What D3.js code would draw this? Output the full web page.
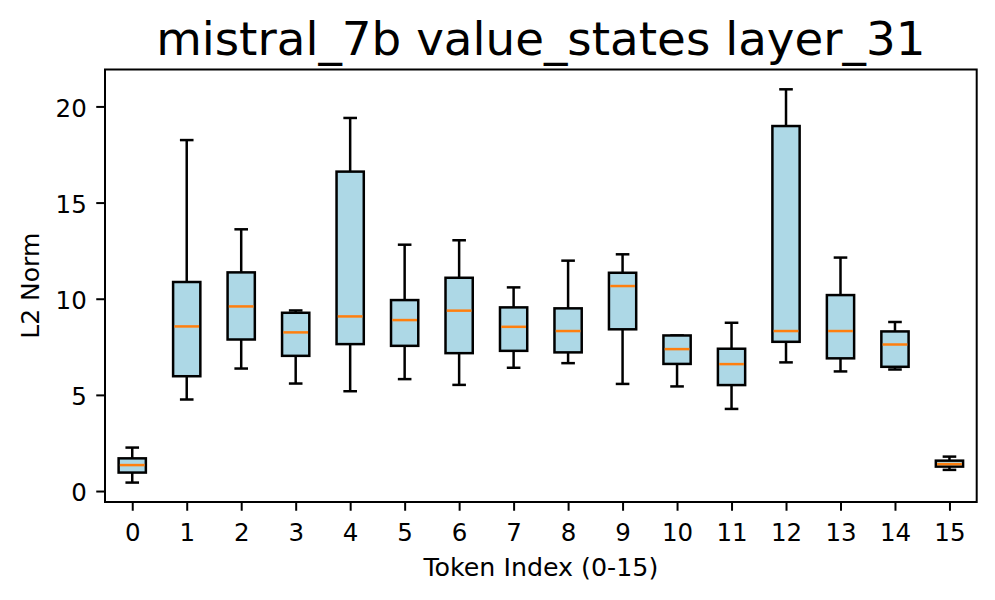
<!DOCTYPE html>
<html>
	<head>
		<meta charset="utf-8">
		<title>mistral_7b value_states layer_31</title>
		<script src="https://d3js.org/d3.v7.min.js"></script>
		<style>
			body { margin: 0; background: #fff; }
			svg { display: block; font-family: "DejaVu Sans", sans-serif; }
		</style>
	</head>
	<body>
		<svg id="chart" width="995" height="600"></svg>

		<script type="text/javascript">
			// values
			var tokens      = [0, 1, 2, 3, 4, 5, 6, 7, 8, 9, 10, 11, 12, 13, 14, 15];
			var whiskerLow  = [0.44, 4.76, 6.37, 5.59, 5.19, 5.82, 5.52, 6.41, 6.65, 5.57, 5.44, 4.27, 6.69, 6.22, 6.32, 1.10];
			var q1          = [0.96, 5.97, 7.88, 7.03, 7.64, 7.55, 7.17, 7.29, 7.21, 8.41, 6.61, 5.51, 7.76, 6.90, 6.46, 1.27];
			var median      = [1.35, 8.56, 9.60, 8.25, 9.08, 8.89, 9.38, 8.54, 8.32, 10.66, 7.38, 6.60, 8.32, 8.32, 7.62, 1.40];
			var q3          = [1.70, 10.87, 11.37, 9.27, 16.61, 9.93, 11.09, 9.55, 9.50, 11.35, 8.09, 7.40, 18.98, 10.19, 8.30, 1.58];
			var whiskerHigh = [2.26, 18.25, 13.61, 9.39, 19.40, 12.81, 13.04, 10.59, 11.98, 12.31, 8.09, 8.75, 20.89, 12.14, 8.79, 1.79];
			var yTicks      = [0, 5, 10, 15, 20];

			var boxes = tokens.map(function(t, i) {
				return {token: t, lo: whiskerLow[i], q1: q1[i], med: median[i], q3: q3[i], hi: whiskerHigh[i]};
			});

			var plotLeft = 105, plotRight = 976.7, plotTop = 69.5, plotBottom = 502;
			var svg = d3.select('#chart');

			var x = d3.scaleLinear().domain([-0.5, 15.5]).range([plotLeft, plotRight]);
			var y = d3.scaleLinear().domain([-0.57, 21.92]).range([plotBottom, plotTop]);

			var boxW = x(0.25) - x(-0.25);
			var capW = x(0.125) - x(-0.125);

			svg.append('rect')
				.attr('width', 995).attr('height', 600)
				.attr('fill', '#fff');

			var g = svg.append('g');

			// whiskers
			g.selectAll('line.whisker-lo')
				.data(boxes).enter().append('line')
				.attr('x1', function(d) { return x(d.token); })
				.attr('x2', function(d) { return x(d.token); })
				.attr('y1', function(d) { return y(d.q1); })
				.attr('y2', function(d) { return y(d.lo); })
				.attr('stroke', '#000').attr('stroke-width', 2.5);

			g.selectAll('line.whisker-hi')
				.data(boxes).enter().append('line')
				.attr('x1', function(d) { return x(d.token); })
				.attr('x2', function(d) { return x(d.token); })
				.attr('y1', function(d) { return y(d.q3); })
				.attr('y2', function(d) { return y(d.hi); })
				.attr('stroke', '#000').attr('stroke-width', 2.5);

			// caps
			['lo', 'hi'].forEach(function(k) {
				g.selectAll('line.cap-' + k)
					.data(boxes).enter().append('line')
					.attr('x1', function(d) { return x(d.token) - capW / 2; })
					.attr('x2', function(d) { return x(d.token) + capW / 2; })
					.attr('y1', function(d) { return y(d[k]); })
					.attr('y2', function(d) { return y(d[k]); })
					.attr('stroke', '#000').attr('stroke-width', 2.5);
			});

			// boxes
			g.selectAll('rect.box')
				.data(boxes).enter().append('rect')
				.attr('x', function(d) { return x(d.token) - boxW / 2; })
				.attr('y', function(d) { return y(d.q3); })
				.attr('width', boxW)
				.attr('height', function(d) { return y(d.q1) - y(d.q3); })
				.attr('fill', '#add8e6')
				.attr('stroke', '#000').attr('stroke-width', 2.5);

			// medians
			g.selectAll('line.median')
				.data(boxes).enter().append('line')
				.attr('x1', function(d) { return x(d.token) - boxW / 2 + 1.25; })
				.attr('x2', function(d) { return x(d.token) + boxW / 2 - 1.25; })
				.attr('y1', function(d) { return y(d.med); })
				.attr('y2', function(d) { return y(d.med); })
				.attr('stroke', '#ff7f0e').attr('stroke-width', 2.5);

			// axes
			var xAxis = svg.append('g')
				.attr('transform', 'translate(0,' + plotBottom + ')')
				.call(d3.axisBottom(x).tickValues(tokens).tickFormat(d3.format('d'))
					.tickSize(8.75).tickPadding(12.5));
			var yAxis = svg.append('g')
				.attr('transform', 'translate(' + plotLeft + ',0)')
				.call(d3.axisLeft(y).tickValues(yTicks).tickFormat(d3.format('d'))
					.tickSize(8.75).tickPadding(9.5));

			[xAxis, yAxis].forEach(function(a) {
				a.select('.domain').remove();
				a.selectAll('.tick line').attr('stroke', '#000').attr('stroke-width', 2);
				a.selectAll('.tick text')
					.attr('fill', '#000')
					.style('font-family', '"DejaVu Sans", sans-serif')
					.style('font-size', '24.5px');
			});
			yAxis.selectAll('.tick text').attr('dy', '0.4em');

			svg.append('rect')
				.attr('x', plotLeft).attr('y', plotTop)
				.attr('width', plotRight - plotLeft).attr('height', plotBottom - plotTop)
				.attr('fill', 'none')
				.attr('stroke', '#000').attr('stroke-width', 2);

			// labels
			svg.append('text')
				.attr('x', (plotLeft + plotRight) / 2).attr('y', 54.5)
				.attr('text-anchor', 'middle')
				.style('font-size', '46.8px')
				.text('mistral_7b value_states layer_31');

			svg.append('text')
				.attr('x', (plotLeft + plotRight) / 2).attr('y', 576)
				.attr('text-anchor', 'middle')
				.style('font-size', '25.3px')
				.text('Token Index (0-15)');

			svg.append('text')
				.attr('transform', 'translate(39.3,' + (plotTop + plotBottom) / 2 + ') rotate(-90)')
				.attr('text-anchor', 'middle')
				.style('font-size', '25px')
				.text('L2 Norm');
		</script>
	</body>
</html>
